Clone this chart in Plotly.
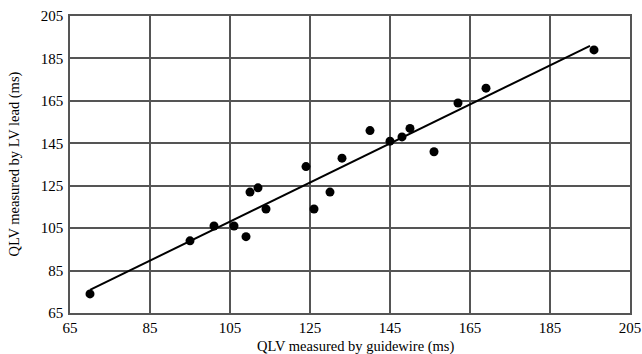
import plotly.graph_objects as go

guidewire = [70, 95, 101, 106, 109, 110, 112, 114, 126, 124, 130, 133, 140, 145, 148, 150, 156, 162, 169, 196]
lv_lead   = [74, 99, 106, 106, 101, 122, 124, 114, 114, 134, 122, 138, 151, 146, 148, 152, 141, 164, 171, 189]
fit_slope = 0.92
fit_intercept = 11.5
fit_range = [70, 195]
tick_vals = [65, 85, 105, 125, 145, 165, 185, 205]

fig = go.Figure()
fig.add_trace(go.Scatter(
    x=fit_range, y=[fit_slope * v + fit_intercept for v in fit_range],
    mode="lines", line=dict(color="black", width=2), showlegend=False, hoverinfo="skip"))
fig.add_trace(go.Scatter(
    x=guidewire, y=lv_lead, mode="markers",
    marker=dict(color="black", size=9), showlegend=False))

serif = "Liberation Serif, Times New Roman, serif"
font = dict(family=serif, size=15, color="black")
axis_common = dict(
    range=[65, 205], tickvals=tick_vals, ticktext=[str(t) for t in tick_vals],
    showgrid=True, gridcolor="#555555", gridwidth=1.5,
    showline=True, linecolor="#555555", linewidth=1.5, mirror=True,
    ticks="", zeroline=False, tickfont=font, automargin=False,
)
fig.update_xaxes(**axis_common, ticklabelstandoff=0)
fig.update_yaxes(**axis_common, ticklabelstandoff=2)

title_font = dict(family=serif, size=14.5, color="black")
fig.add_annotation(text="QLV measured by guidewire (ms)", xref="paper", yref="paper",
                   x=0.51, y=-0.078, xanchor="center", yanchor="top", showarrow=False, font=title_font)
fig.add_annotation(text="QLV measured by LV lead (ms)", xref="paper", yref="paper",
                   x=-0.1, y=0.5, xanchor="center", yanchor="middle", textangle=-90, showarrow=False, font=title_font)

fig.update_layout(
    width=642, height=354,
    margin=dict(l=70, r=12, t=16, b=41),
    paper_bgcolor="white", plot_bgcolor="white",
    font=font,
)
fig.write_html("out.html", config={"displayModeBar": False},
               post_script="document.body.style.margin='0px';document.body.style.padding='0px';")
